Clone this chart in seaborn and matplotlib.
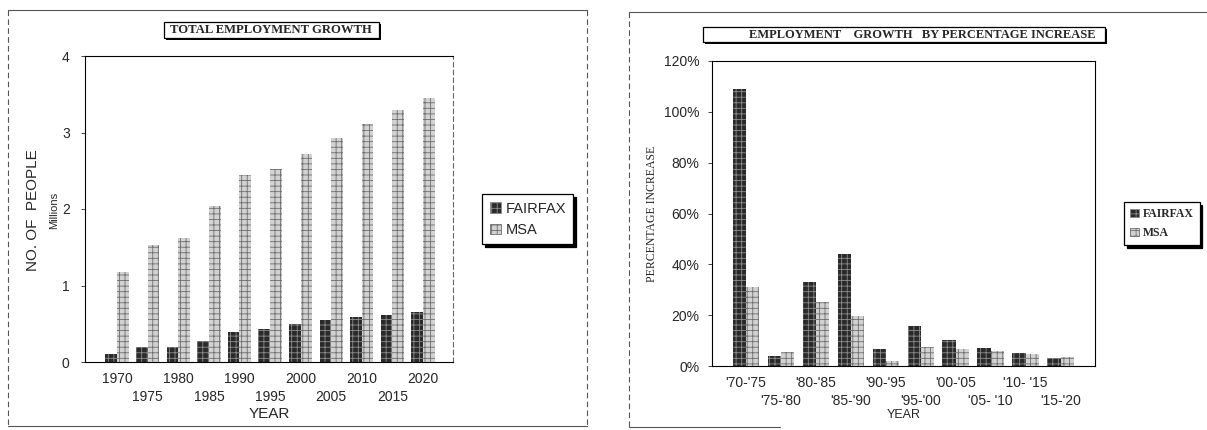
import matplotlib
matplotlib.use("Agg")
import matplotlib.pyplot as plt
import seaborn as sns
import pandas as pd
import numpy as np
from matplotlib.patches import Patch, Rectangle
from matplotlib.lines import Line2D

# ---------------- data ----------------
years = ["1970", "1975", "1980", "1985", "1990", "1995", "2000", "2005", "2010", "2015", "2020"]
fairfax_total = [0.10, 0.20, 0.20, 0.27, 0.39, 0.43, 0.50, 0.55, 0.59, 0.62, 0.65]
msa_total = [1.17, 1.53, 1.62, 2.04, 2.45, 2.52, 2.72, 2.93, 3.11, 3.29, 3.45]

periods = ["'70-'75", "'75-'80", "'80-'85", "'85-'90", "'90-'95",
           "'95-'00", "'00-'05", "'05- '10", "'10- '15", "'15-'20"]
fairfax_pct = [1.09, 0.039, 0.332, 0.441, 0.067, 0.159, 0.101, 0.071, 0.051, 0.030]
msa_pct = [0.310, 0.055, 0.253, 0.197, 0.021, 0.076, 0.067, 0.059, 0.046, 0.037]

series = ["FAIRFAX", "MSA"]

df_total = pd.DataFrame({
    "year": years * 2,
    "value": fairfax_total + msa_total,
    "series": [series[0]] * len(years) + [series[1]] * len(years),
})
df_pct = pd.DataFrame({
    "period": periods * 2,
    "value": fairfax_pct + msa_pct,
    "series": [series[0]] * len(periods) + [series[1]] * len(periods),
})

# ---------------- style ----------------
sns.set_theme(style="white")
plt.rcParams["font.family"] = ["Liberation Sans", "DejaVu Sans"]
plt.rcParams["hatch.linewidth"] = 0.6

W, H = 1207, 430
fig = plt.figure(figsize=(W / 100, H / 100), dpi=100)
fig.patch.set_facecolor("white")

face = {"FAIRFAX": "#2a2a2a", "MSA": "#d2d2d2"}
hatchc = {"FAIRFAX": "#8c8c8c", "MSA": "#6e6e6e"}
hatch = {"FAIRFAX": "+++", "MSA": "+++"}


def style_bars(ax):
    for cont, s in zip(ax.containers, series):
        for p in cont:
            p.set_facecolor(face[s])
            p.set_hatch(hatch[s])
            if hasattr(p, "set_hatchcolor"):
                p.set_hatchcolor(hatchc[s])
                p.set_edgecolor("#111111")
                p.set_linewidth(0.6)
            else:
                p.set_edgecolor(hatchc[s])
                p.set_linewidth(0.0)


def fig_rect(x0, y0, x1, y1):
    return [x0 / W, 1 - y1 / H, (x1 - x0) / W, (y1 - y0) / H]


def legend_handles():
    hs = []
    for s in series:
        kw = dict(facecolor=face[s], hatch=hatch[s], label=s)
        hs.append(Patch(edgecolor=hatchc[s], linewidth=0.6, **kw))
    return hs


def stagger_ticks(ax, labels, pad_top, pad_bot, size):
    n = len(labels)
    even = [i for i in range(n) if i % 2 == 0]
    odd = [i for i in range(n) if i % 2 == 1]
    ax.set_xticks(even, [labels[i] for i in even])
    ax.set_xticks(odd, [labels[i] for i in odd], minor=True)
    ax.tick_params(axis="x", which="major", length=0, pad=pad_top, labelsize=size)
    ax.tick_params(axis="x", which="minor", length=0, pad=pad_bot, labelsize=size)


def title_box(x0, y0, x1, y1, text, tx, size):
    fig.add_artist(Rectangle((x0 / W + 2 / W, 1 - y1 / H - 2 / H), (x1 - x0) / W, (y1 - y0) / H,
                             transform=fig.transFigure, facecolor="black", edgecolor="black", lw=0))
    fig.add_artist(Rectangle((x0 / W, 1 - y1 / H), (x1 - x0) / W, (y1 - y0) / H,
                             transform=fig.transFigure, facecolor="white", edgecolor="black", lw=0.9))
    fig.text(tx / W, 1 - (y0 + y1) / 2 / H, text, ha="center", va="center",
             fontsize=size, fontweight="bold", family=["Liberation Serif", "DejaVu Serif"])


def frame_line(x0, y0, x1, y1, ls="-", lw=0.8, color="#555555"):
    fig.add_artist(Line2D([x0 / W, x1 / W], [1 - y0 / H, 1 - y1 / H], transform=fig.transFigure,
                          color=color, lw=lw, ls=ls))


# ---------------- left panel ----------------
ax1 = fig.add_axes(fig_rect(85, 56, 453, 362))
sns.barplot(data=df_total, x="year", y="value", hue="series", order=years, hue_order=series,
            width=0.76, ax=ax1, legend=False, saturation=1)
style_bars(ax1)
ax1.set_xlim(-1.05, 10.98)
ax1.set_ylim(0, 4)
ax1.set_yticks([0, 1, 2, 3, 4])
ax1.set_yticklabels(["0", "1", "2", "3", "4"])
ax1.tick_params(axis="y", length=3, width=0.6, pad=8, labelsize=10, left=True)
stagger_ticks(ax1, years, 7, 20, 10)
ax1.set_xlabel("YEAR", fontsize=11, labelpad=2)
ax1.set_ylabel("")
for sp in ax1.spines.values():
    sp.set_color("black")
    sp.set_linewidth(0.8)
ax1.spines["right"].set_linestyle((0, (4, 3)))
ax1.spines["right"].set_color("#666666")
fig.text(33 / W, 1 - 210 / H, "NO. OF  PEOPLE", rotation=90, ha="center", va="center", fontsize=11)
fig.text(54 / W, 1 - 210 / H, "Millions", rotation=90, ha="center", va="center", fontsize=8)

leg1 = fig.legend(handles=legend_handles(), loc="upper left",
                  bbox_to_anchor=(475 / W, 1 - 187 / H), bbox_transform=fig.transFigure,
                  fontsize=10.5, frameon=True, fancybox=False, edgecolor="black",
                  handlelength=0.8, handleheight=0.7, handletextpad=0.3, labelspacing=0.5,
                  borderpad=0.5, shadow={"ox": 2, "oy": -2, "color": "black", "alpha": 1})
leg1.get_frame().set_linewidth(0.9)

title_box(164, 22, 379, 38, "TOTAL EMPLOYMENT GROWTH", 271, 9.1)

# ---------------- right panel ----------------
ax2 = fig.add_axes(fig_rect(712, 61, 1095, 366))
sns.barplot(data=df_pct, x="period", y="value", hue="series", order=periods, hue_order=series,
            width=0.76, ax=ax2, legend=False, saturation=1)
style_bars(ax2)
ax2.set_xlim(-0.97, 9.98)
ax2.set_ylim(0, 1.2)
ticks = [0, 0.2, 0.4, 0.6, 0.8, 1.0, 1.2]
ax2.set_yticks(ticks)
ax2.set_yticklabels([f"{int(round(t * 100))}%" for t in ticks])
ax2.tick_params(axis="y", length=3, width=0.6, pad=6, labelsize=10, left=True)
stagger_ticks(ax2, periods, 7, 20, 10)
ax2.set_xlabel("YEAR", fontsize=9, labelpad=1)
ax2.set_ylabel("")
for sp in ax2.spines.values():
    sp.set_color("black")
    sp.set_linewidth(0.8)
fig.text(652 / W, 1 - 214 / H, "PERCENTAGE INCREASE", rotation=90, ha="center", va="center",
         fontsize=8.5, family=["Liberation Serif", "DejaVu Serif"])

leg2 = fig.legend(handles=legend_handles(), loc="upper left",
                  bbox_to_anchor=(1118 / W, 1 - 196 / H), bbox_transform=fig.transFigure,
                  prop={"family": ["Liberation Serif", "DejaVu Serif"], "weight": "bold", "size": 8.5},
                  frameon=True, fancybox=False, edgecolor="black",
                  handlelength=0.8, handleheight=0.7, handletextpad=0.3, labelspacing=0.6,
                  borderpad=0.5, shadow={"ox": 2, "oy": -2, "color": "black", "alpha": 1})
leg2.get_frame().set_linewidth(0.9)

title_box(703, 27, 1105, 42, "EMPLOYMENT    GROWTH   BY PERCENTAGE INCREASE", 922, 9)

# ---------------- panel frames ----------------
frame_line(8, 10, 587, 10)
frame_line(8, 10, 8, 426, ls=(0, (5, 3)))
frame_line(587, 10, 587, 426, ls=(0, (5, 3)))
frame_line(8, 426, 587, 426)
frame_line(629, 12, 1207, 12)
frame_line(629, 12, 629, 427, ls=(0, (5, 3)))
frame_line(629, 427, 780, 427)

fig.savefig("out.png", dpi=100, facecolor="white")
